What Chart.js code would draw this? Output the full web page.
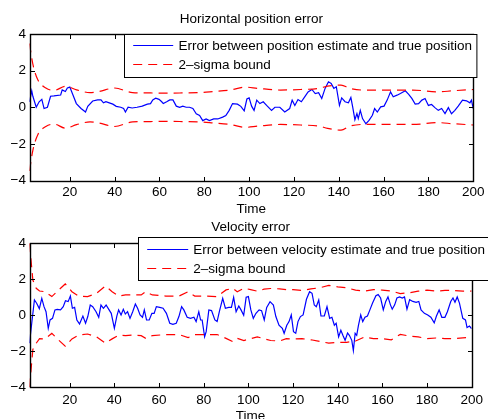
<!DOCTYPE html>
<html>
<head>
<meta charset="utf-8">
<script src="https://cdn.jsdelivr.net/npm/chart.js@4.4.1/dist/chart.umd.min.js"></script>
<style>
  html, body { margin: 0; padding: 0; background: #fff; overflow: hidden; }
  #wrap { position: relative; width: 488px; height: 419px; }
  .plot { position: absolute; left: 0; width: 488px; }
  #posBox { top: 0; height: 220px; }
  #velBox { top: 212px; height: 216px; }
</style>
</head>
<body>
<div id="wrap">
  <div class="plot" id="posBox"><canvas id="posChart" width="488" height="220"></canvas></div>
  <div class="plot" id="velBox"><canvas id="velChart" width="488" height="216"></canvas></div>
</div>
<script>
// shared axis ticks
const xTicks = [20, 40, 60, 80, 100, 120, 140, 160, 180, 200];
const yTicks = [-4, -2, 0, 2, 4];

// top plot: position error
const posTime = [
  2, 3, 3.5, 5, 6.3, 7.5, 8.5, 10, 11.4, 12.9,
  15.9, 16.6, 18, 18.9, 20, 21.4, 22.9, 25, 27, 28,
  30.2, 32.4, 33.9, 35, 36.1, 37.6, 39.2, 40.7, 42.7, 44,
  44.8, 46, 47.8, 50, 52.3, 54.6, 56, 57, 58.3, 59.8,
  61, 61.7, 63.2, 64.6, 66, 67.5, 69, 70.4, 71.9, 73.4,
  74.9, 76.4, 77.9, 79.3, 80.8, 82.3, 84.2, 86, 88.2, 89.6,
  91.1, 92.6, 94.8, 96.3, 97.8, 99, 100, 101.1, 102.2, 103.4,
  104.8, 106.3, 107.8, 110, 111.5, 113.7, 115.9, 118.1, 119.2, 120.4,
  121.8, 123.3, 124.8, 126.3, 128, 129.5, 131, 132.4, 133.9, 135.4,
  136.6, 137.8, 138.9, 140.3, 141.3, 142.8, 144.3, 145.4, 146.2, 147.2,
  148.1, 148.7, 149.6, 150.6, 152.1, 153.5, 155, 156, 157.2, 158.7,
  160.2, 161.6, 163.1, 164.3, 166, 167.5, 169.7, 171.2, 172.6, 174.1,
  175.6, 177.1, 178.5, 180, 181.4, 182.9, 184.4, 185.9, 187.4, 188.9,
  190.3, 191.8, 193.3, 195.2, 197, 198.5, 199.2, 200
];
const posErr = [
  0.3, 0.9, 0.6, 0, 0.3, 0.43, -0.07, 0, 0.6, 0.62,
  0.67, 0.95, 0.86, 1.05, 1.1, 0.67, 0.2, -0.07, -0.26, 0.05,
  0.34, 0.4, 0.4, 0.24, 0.3, 0.24, 0.17, 0.05, 0, -0.07,
  -0.26, 0, -0.04, 0, 0.06, 0.17, 0.2, 0.4, 0.49, 0.43,
  0.3, 0.2, 0.3, 0.4, 0.4, 0.06, 0, 0.06, 0, 0,
  -0.07, -0.36, -0.45, -0.73, -0.64, -0.73, -0.64, -0.64, -0.54, -0.45,
  -0.17, 0.2, 0.17, 0.05, -0.2, 0.45, 0.51, 0.06, -0.17, 0.39,
  0.2, 0.3, 0.1, -0.17, 0, 0, -0.26, -0.07, 0.39, 0.1,
  0.42, 0.3, 0.57, 0.84, 0.97, 0.75, 0.79, 0.48, 1.03, 1.39,
  1.3, 1.03, 1.12, 0.1, 0.51, 0.3, 0.24, 0.53, 0.02, -0.68,
  -0.35, -0.62, -0.17, -0.62, -0.9, -0.72, -0.44, -0.07, -0.26, 0.02,
  0.06, 0.39, 0.84, 0.57, 0.66, 0.75, 0.9, 0.7, 0.48, 0.17,
  0.2, 0.39, 0.48, 0.1, 0.15, -0.02, -0.17, -0.07, -0.35, -0.02,
  -0.35, -0.17, 0.06, 0.39, 0.35, 0.24, 0.39, -0.07
];
const posBoundTime = [
  2, 3.5, 5.7, 9.3, 13, 18, 23, 29, 33, 40,
  48, 56, 63, 70, 78, 84, 92, 98, 104, 114,
  123, 131, 135, 141, 145, 151, 162, 173, 184, 191, 200
];
const posUpper = [
  3.48, 2.35, 1.5, 1.05, 0.92, 1.14, 0.95, 0.8, 0.86, 1.05,
  0.8, 0.78, 0.77, 0.78, 0.8, 0.86, 0.95, 1.1, 1.03, 0.94,
  0.97, 1.03, 1.15, 1.21, 1.03, 0.94, 0.94, 0.94, 0.84, 0.9, 0.97
];
const posLower = [
  -3.48, -2.35, -1.5, -1.05, -0.92, -1.14, -0.95, -0.8, -0.86, -1.05,
  -0.8, -0.78, -0.77, -0.78, -0.8, -0.86, -0.95, -1.1, -1.03, -0.94,
  -0.97, -1.03, -1.15, -1.25, -1.03, -0.94, -0.94, -0.94, -0.84, -0.9, -0.97
];

// bottom plot: velocity error
const velTime = [
  2, 3, 4.2, 5.2, 6.4, 7.5, 8.5, 9.4, 10.4, 11.2,
  12.3, 13.4, 14.4, 15.9, 17.1, 18.1, 19.3, 20.3, 21.2, 22.2,
  23.2, 24.4, 25.9, 27.1, 28.1, 29.2, 30.3, 31.8, 33, 34,
  35.1, 36.3, 37.5, 38.6, 40, 41.1, 41.9, 43, 44, 44.9,
  45.9, 47, 48.2, 49.4, 50.4, 51.5, 52.6, 53.4, 54.4, 55.6,
  56.8, 57.8, 58.8, 60.3, 61.8, 63.3, 64.8, 66.2, 67.7, 68.9,
  70.1, 71.1, 72.6, 74.1, 75.6, 76.6, 77.8, 78.6, 79.3, 80.4,
  81.1, 82.3, 83.5, 85, 86, 87, 88.5, 89.7, 91.2, 92.4,
  93.4, 94.5, 95.7, 96.7, 97.9, 99, 100, 101.1, 102.2, 103.4,
  104.8, 105.9, 107.1, 108.2, 109.7, 111.2, 112.3, 113.7, 115.2, 116,
  117.2, 118.2, 119.2, 120.2, 121.2, 122.2, 123.3, 124.5, 126, 127.4,
  128.5, 129.5, 130.4, 131.5, 132.5, 134, 135.2, 136.4, 137.4, 138.5,
  139.3, 140.4, 141.4, 142.3, 143.3, 144.4, 145.2, 146.3, 147, 147.8,
  148.5, 149.3, 150.3, 151.2, 152.2, 153.3, 154.4, 155.6, 157.1, 158.1,
  159.2, 160.4, 161.5, 162.5, 163.6, 164.4, 165.5, 166.5, 167.7, 168.9,
  169.9, 171, 172.2, 173.6, 175.1, 176.3, 177.3, 178.8, 180.3, 181.7,
  183.2, 184.2, 185.4, 186.6, 188, 189.1, 190.6, 191.6, 192.5, 193.5,
  194.5, 196, 197.2, 197.9, 199, 199.9
];
const velErr = [
  -1.55, -0.44, 0.85, 0.67, 0.37, 0.94, 0.48, 0.2, -0.72, -0.26,
  -0.17, 0.3, 0.33, 0.3, 0.48, 0.81, 0.76, 1.07, 0.39, 0.44,
  -0.26, -0.48, -0.04, -0.44, -0.07, 0.57, 0.48, 0.2, -0.11, 0.57,
  0.39, 0.57, 0.33, 0.11, -0.72, -0.04, 0.3, 0.02, 0.33, 0.07,
  0.2, -0.17, 0.2, 0.63, 0.39, 0.02, -0.11, 0.3, -0.26, -0.26,
  0.11, 0.11, 0.48, 0.44, 0.39, 0.11, -0.44, -0.5, -0.44, -0.07,
  0.48, 0.3, -0.11, -0.17, -0.11, -0.35, 0.2, -0.26, -0.26, -1.19,
  -0.91, 0.3, 0.26, -0.26, -0.35, 0.2, 0.94, 0.39, 0.44, 0.44,
  1.0, 0.2, 0.52, 0.3, 0.0, 1.0, 1.04, 0.3, -0.17, 0.11,
  0.3, 0.26, -0.26, 0.44, 0.76, 0.57, -0.07, -0.55, -0.72, -1.0,
  -0.55, -0.35, 0.02, -0.91, -1.0, -0.35, -0.07, 0.02, 0.89, 1.31,
  1.22, 0.57, 0.48, 0.85, -0.04, -0.04, 0.48, -0.17, -0.11, -0.55,
  -0.44, -1.2, -0.83, -1.11, -1.39, -0.98, -1.11, -1.39, -1.96, -1.0,
  -1.11, -0.55, 0.02, -0.35, -0.11, -0.04, 0.3, 0.68, 1.09, 1.15,
  0.96, 0.3, 0.77, 1.02, 0.58, 0.34, 0.58, 0.96, 1.02, 0.96,
  1.02, 0.34, 0.87, 0.77, 0.72, 0.77, 0.3, 0.11, 0.02, -0.11,
  -0.42, -0.04, 0.3, -0.11, -0.11, 0.2, 0.77, 0.96, 0.72, 1.02,
  0.68, -0.17, -0.26, -0.68, -0.6, -0.74
];
const velBoundTime = [
  2, 3.5, 5, 6.5, 9, 12, 15, 18, 21, 24,
  28, 32, 36, 39, 42, 45, 48, 52, 54, 57,
  63, 69, 73, 76, 81, 86, 90, 93, 95, 98,
  101, 104, 107, 110, 114, 117, 120, 124, 128, 132,
  136, 140, 144, 148, 152, 156, 160, 164, 168, 172,
  176, 180, 184, 188, 192, 196, 200
];
const velUpper = [
  4.0, 1.96, 1.5, 1.35, 1.31, 1.04, 1.4, 1.74, 1.31, 1.07,
  1.04, 1.22, 1.63, 1.31, 1.07, 1.13, 1.13, 1.13, 1.31, 1.13,
  1.07, 1.07, 1.31, 1.07, 1.07, 1.04, 1.41, 1.5, 1.31, 1.5,
  1.43, 1.34, 1.45, 1.49, 1.47, 1.43, 1.43, 1.38, 1.47, 1.53,
  1.66, 1.58, 1.53, 1.4, 1.34, 1.43, 1.4, 1.35, 1.21, 1.25,
  1.34, 1.4, 1.34, 1.38, 1.38, 1.34, 1.35
];
const velLower = [
  -4.0, -1.9, -1.55, -1.3, -1.31, -1.0, -1.37, -1.72, -1.31, -1.1,
  -1.04, -1.2, -1.55, -1.31, -1.1, -1.13, -1.1, -1.13, -1.28, -1.13,
  -1.07, -1.07, -1.24, -1.07, -1.07, -1.07, -1.28, -1.46, -1.28, -1.4,
  -1.3, -1.2, -1.3, -1.4, -1.43, -1.3, -1.32, -1.3, -1.36, -1.45,
  -1.55, -1.5, -1.5, -1.43, -1.2, -1.3, -1.3, -1.36, -1.06, -1.15,
  -1.2, -1.3, -1.26, -1.3, -1.3, -1.25, -1.22
];

const FONT = "'Liberation Sans', Arial, Helvetica, sans-serif";
const FONT_SIZE = 13.5;
const TICK_LEN = 4.5;
const BLUE = "#0000ff";
const RED = "#ff0000";
const DASH = [9, 6];
const LINE_W = 1.2;

Chart.defaults.font.family = FONT;
Chart.defaults.font.size = FONT_SIZE;
Chart.defaults.color = "#000";

function pts(xs, ys) {
  return xs.map((x, i) => ({ x, y: ys[i] }));
}

function fmtTick(v) {
  // matlab style minus sign
  return v < 0 ? "\u2212" + Math.abs(v) : String(v);
}

// box around the axes, inward ticks on all four sides, and the boxed legend
const matlabAxes = {
  id: "matlabAxes",
  afterDraw(chart, args, opts) {
    const { ctx, chartArea: a, scales } = chart;
    const L = Math.round(a.left) + 0.5, R = Math.round(a.right) + 0.5;
    const T = Math.round(a.top) + 0.5, B = Math.round(a.bottom) + 0.5;
    ctx.save();
    ctx.strokeStyle = "#000";
    ctx.lineWidth = 1;
    ctx.setLineDash([]);
    ctx.beginPath();
    scales.x.ticks.forEach(t => {
      const px = Math.round(scales.x.getPixelForValue(t.value)) + 0.5;
      ctx.moveTo(px, B); ctx.lineTo(px, B - TICK_LEN);
      ctx.moveTo(px, T); ctx.lineTo(px, T + TICK_LEN);
    });
    scales.y.ticks.forEach(t => {
      const py = Math.round(scales.y.getPixelForValue(t.value)) + 0.5;
      ctx.moveTo(L, py); ctx.lineTo(L + TICK_LEN, py);
      ctx.moveTo(R, py); ctx.lineTo(R - TICK_LEN, py);
    });
    ctx.stroke();
    ctx.lineWidth = 1.4;
    ctx.strokeRect(L, T, R - L, B - T);

    // legend
    const lg = opts.legend;
    if (lg) {
      const x = Math.round(lg.x) + 0.5, y = Math.round(lg.y) + 0.5;
      ctx.fillStyle = "#fff";
      ctx.fillRect(x, y, lg.w, lg.h);
      ctx.strokeStyle = "#000";
      ctx.lineWidth = 1;
      ctx.strokeRect(x, y, lg.w, lg.h);
      ctx.font = FONT_SIZE + "px " + FONT;
      ctx.textBaseline = "middle";
      ctx.textAlign = "left";
      lg.items.forEach((idx, row) => {
        const ds = chart.data.datasets[idx];
        const ry = y + lg.rows[row];
        ctx.strokeStyle = ds.borderColor;
        ctx.lineWidth = LINE_W;
        ctx.setLineDash(ds.borderDash || []);
        ctx.beginPath();
        ctx.moveTo(x + lg.line[0], ry);
        ctx.lineTo(x + lg.line[1], ry);
        ctx.stroke();
        ctx.setLineDash([]);
        ctx.fillStyle = "#000";
        ctx.fillText(ds.label, x + lg.textX, ry + 0.5);
      });
    }
    ctx.restore();
  }
};

function makeChart(canvasId, cfg) {
  const ctx = document.getElementById(canvasId).getContext("2d");
  return new Chart(ctx, {
    type: "line",
    data: {
      datasets: [
        {
          label: cfg.errLabel,
          data: pts(cfg.time, cfg.err),
          borderColor: BLUE,
          borderWidth: LINE_W,
          pointRadius: 0,
          tension: 0,
          order: 2
        },
        {
          label: "2\u2013sigma bound",
          data: pts(cfg.boundTime, cfg.upper),
          borderColor: RED,
          borderWidth: LINE_W,
          borderDash: DASH,
          pointRadius: 0,
          cubicInterpolationMode: cfg.boundMode,
          tension: 0,
          order: 1
        },
        {
          label: "2\u2013sigma bound (lower)",
          data: pts(cfg.boundTime, cfg.lower),
          borderColor: RED,
          borderWidth: LINE_W,
          borderDash: DASH,
          pointRadius: 0,
          cubicInterpolationMode: cfg.boundMode,
          tension: 0,
          order: 1
        }
      ]
    },
    options: {
      responsive: false,
      animation: false,
      devicePixelRatio: 1,
      layout: { padding: { left: 0, right: 11.3, top: 0, bottom: 0 } },
      plugins: {
        legend: { display: false },
        tooltip: { enabled: false },
        title: {
          display: true,
          text: cfg.title,
          fullSize: false,
          color: "#000",
          font: { size: FONT_SIZE, weight: "normal", lineHeight: 1.2 },
          padding: cfg.titlePad
        },
        matlabAxes: { legend: cfg.legend }
      },
      scales: {
        x: {
          type: "linear",
          min: 2,
          max: 200,
          grid: { display: false, drawTicks: false },
          border: { display: false },
          afterBuildTicks: s => { s.ticks = xTicks.map(v => ({ value: v })); },
          afterFit: s => { s.height = cfg.xHeight; },
          ticks: { padding: cfg.xTickPad, maxRotation: 0, autoSkip: false, callback: v => fmtTick(v) },
          title: {
            display: true,
            text: "Time",
            font: { size: FONT_SIZE, lineHeight: 1.2 },
            padding: { top: 0, bottom: cfg.timePad }
          }
        },
        y: {
          min: -4,
          max: 4,
          grid: { display: false, drawTicks: false },
          border: { display: false },
          afterBuildTicks: s => { s.ticks = yTicks.map(v => ({ value: v })); },
          afterFit: s => { s.width = 29.5; },
          ticks: { padding: 3.5, autoSkip: false, callback: v => fmtTick(v) }
        }
      }
    },
    plugins: [matlabAxes]
  });
}

makeChart("posChart", {
  title: "Horizontal position error",
  errLabel: "Error between position estimate and true position",
  time: posTime, err: posErr,
  boundTime: posBoundTime, upper: posUpper, lower: posLower,
  boundMode: "monotone",
  titlePad: { top: 11.5, bottom: 6.3 },
  xHeight: 220 - 180.5,
  xTickPad: 3.5,
  timePad: 2.8,
  legend: { x: 124.3, y: 34, w: 352.4, h: 43, rows: [11, 30], line: [8.7, 48.7], textX: 54, items: [0, 1] }
});

makeChart("velChart", {
  title: "Velocity error",
  errLabel: "Error between velocity estimate and true position",
  time: velTime, err: velErr,
  boundTime: velBoundTime, upper: velUpper, lower: velLower,
  boundMode: "default",
  titlePad: { top: 7.5, bottom: 7.6 },
  xHeight: 216 - 175.3,
  xTickPad: 5,
  timePad: 4,
  legend: { x: 138.3, y: 25.3, w: 400, h: 43, rows: [12, 31], line: [8.7, 49.7], textX: 54.7, items: [0, 1] }
});
</script>
</body>
</html>
